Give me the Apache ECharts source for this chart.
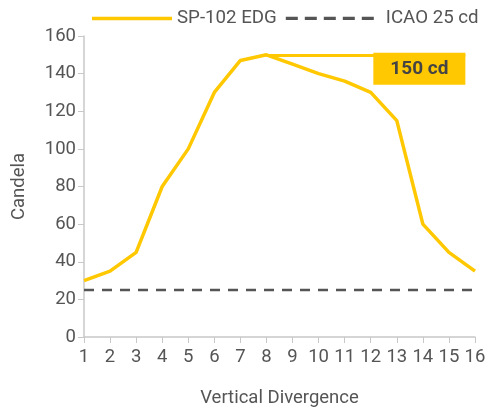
<!DOCTYPE html>
<html><head><meta charset="utf-8">
<script src="https://cdn.jsdelivr.net/npm/echarts@6/dist/echarts.min.js"></script>
<style>html,body{margin:0;padding:0;background:#fff}#c{width:487px;height:409px}</style>
</head><body><div id="c"></div>
<script>
const divergence = [1,2,3,4,5,6,7,8,9,10,11,12,13,14,15,16];
const edgValues = [30,35,45,80,100,130,147,150,145,140,136,130,115,60,45,35];
const icaoValue = 25;
const peakValue = 150;
const peakX = 8;
const peakLabelEndX = 15.63;
const yTicks = [0,20,40,60,80,100,120,140,160];

const chart = echarts.init(document.getElementById('c'), null, {renderer:'canvas'});
const font = 'Roboto';
chart.setOption({
  animation:false,
  textStyle:{fontFamily:font},
  legend:{
    top:9, left:77, width:430, padding:0,
    itemWidth:95, itemHeight:3.5, itemGap:9,
    symbolKeepAspect:false,
    textStyle:{fontSize:18.7, color:'#555', fontFamily:font},
    data:[
      {name:'SP-102 EDG', icon:'path://M0,0H0.01V0.01H0Z M15,0H95V3.5H15Z'},
      {name:'ICAO 25 cd', icon:'path://M0,0.25H12V3.25H0Z M19,0.25H31V3.25H19Z M38,0.25H50V3.25H38Z M57,0.25H69V3.25H57Z M76,0.25H88V3.25H76Z M94.99,3.49H95V3.5H94.99Z', itemStyle:{color:'#555'}}
    ]
  },
  grid:{left:84, right:12, top:36, bottom:72, containLabel:false, outerBoundsMode:'none'},
  xAxis:{
    type:'value', min:1, max:16, interval:1,
    name:'Vertical Divergence', nameLocation:'middle', nameGap:52,
    nameTextStyle:{fontSize:18.5, color:'#555'},
    axisLine:{lineStyle:{color:'#c8c8c8', width:1.5}},
    axisTick:{show:true, length:6, lineStyle:{color:'#c8c8c8'}},
    axisLabel:{fontSize:18.5, color:'#555', margin:11},
    splitLine:{show:false}
  },
  yAxis:{
    type:'value', min:yTicks[0], max:yTicks[yTicks.length-1], interval:20,
    name:'Candela', nameLocation:'middle', nameGap:55,
    nameTextStyle:{fontSize:18.5, color:'#555'},
    axisLine:{show:true, lineStyle:{color:'#c8c8c8', width:1.5}},
    axisTick:{show:true, length:6, lineStyle:{color:'#c8c8c8'}},
    axisLabel:{fontSize:18.5, color:'#555', margin:8},
    splitLine:{show:false}
  },
  series:[
    {
      name:'SP-102 EDG', type:'line', symbol:'none',
      data: divergence.map((x,i)=>[x, edgValues[i]]),
      lineStyle:{color:'#FFC800', width:3.5},
      itemStyle:{color:'#FFC800'},
      markLine:{
        silent:true, symbol:'none',
        lineStyle:{color:'#FFC800', width:3, type:'solid'},
        label:{
          show:true, position:'insideEndBottom', formatter:'150 cd',
          backgroundColor:'#FFC800', color:'#444', fontWeight:'bold', fontSize:19,
          padding:[7,17,6,17], distance:[0,-2]
        },
        data:[[{coord:[peakX, peakValue]},{coord:[peakLabelEndX, peakValue]}]]
      }
    },
    {
      name:'ICAO 25 cd', type:'line', symbol:'none',
      data: divergence.map(x=>[x, icaoValue]),
      lineStyle:{color:'#555', width:2.5, type:[10,8]},
      itemStyle:{color:'#555'}
    }
  ]
});
</script></body></html>
